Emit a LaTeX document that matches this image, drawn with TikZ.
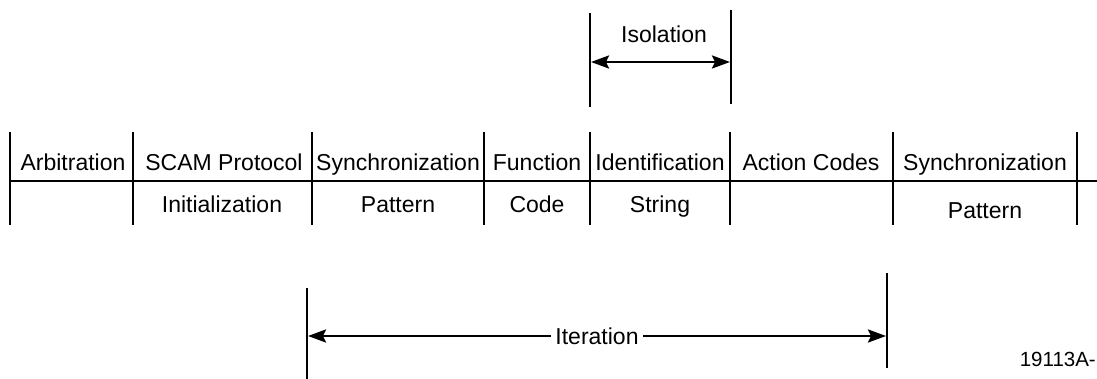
\documentclass[tikz,border=0pt]{standalone}
\usepackage{fontspec}
\setmainfont{Liberation Sans}
\usetikzlibrary{positioning,arrows.meta}

\begin{document}
\begin{tikzpicture}[
    x=1pt, y=-1pt,
    lbl/.style={font=\fontsize{23}{27}\selectfont, anchor=base, inner sep=0pt},
    rule/.style={line width=2.6pt},
    dim/.style={{Stealth[length=18pt,width=13pt,inset=3pt]}-{Stealth[length=18pt,width=13pt,inset=3pt]}, line width=2.6pt}
]
\useasboundingbox (0,0) rectangle (1097,379);

% frame of the field table
\foreach \n/\x in {0/10, 1/133, 2/312, 3/484, 4/590, 5/730, 6/893, 7/1077} {
    \coordinate (t\n) at (\x,132);
    \coordinate (b\n) at (\x,225);
    \draw[rule] (t\n) -- (b\n);
}
\coordinate (hl) at (10,181);
\coordinate (hr) at (1097,181);
\draw[rule] (hl) -- (hr);

% upper row
\node[lbl] (arb) at (73,171) {Arbitration};
\node[lbl] (scam) at (224,171) {SCAM Protocol};
\node[lbl] (sync1) at (398,171) {Synchronization};
\node[lbl] (func) at (537,171) {Function};
\node[lbl] (ident) at (660,171) {Identification};
\node[lbl] (act) at (811,171) {Action Codes};
\node[lbl] (sync2) at (985,171) {Synchronization};

% lower row
\node[lbl] (init) at (222,213) {Initialization};
\node[lbl] (pat1) at (398,213) {Pattern};
\node[lbl] (code) at (537,213) {Code};
\node[lbl] (str) at (660,213) {String};
\node[lbl] (pat2) at (985,219) {Pattern};

% isolation span
\coordinate (isoLt) at (590,13);
\coordinate (isoLb) at (590,107);
\coordinate (isoRt) at (731,10);
\coordinate (isoRb) at (731,104);
\draw[rule] (isoLt) -- (isoLb);
\draw[rule] (isoRt) -- (isoRb);
\coordinate (isoL) at (591,62);
\coordinate (isoR) at (730,62);
\draw[dim] (isoL) -- (isoR);
\node[lbl] (iso) at (664,43) {Isolation};

% iteration span
\coordinate (itLt) at (307,288);
\coordinate (itLb) at (307,379);
\coordinate (itRt) at (887,273);
\coordinate (itRb) at (887,368);
\draw[rule] (itLt) -- (itLb);
\draw[rule] (itRt) -- (itRb);
\coordinate (itL) at (308,336);
\coordinate (itR) at (886,336);
\draw[dim] (itL) -- node[font=\fontsize{23}{27}\selectfont, fill=white, inner xsep=4pt, inner ysep=2pt] (iter) {Iteration} (itR);

\node[font=\fontsize{20.5}{24}\selectfont, anchor=base east, inner sep=0pt] (fig) at (1096,366) {19113A-};
\end{tikzpicture}
\end{document}
